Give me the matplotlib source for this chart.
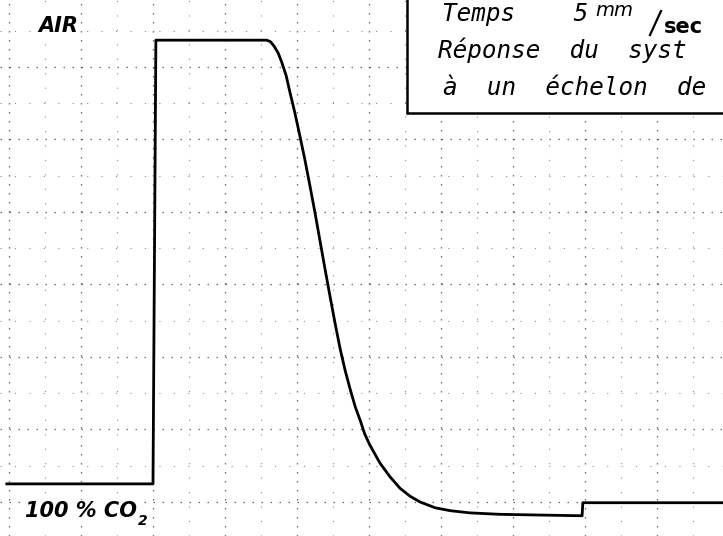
import matplotlib
matplotlib.use('Agg')
import matplotlib.pyplot as plt
from matplotlib.ticker import MultipleLocator
from matplotlib.patches import Rectangle
from matplotlib.lines import Line2D

# Recorder trace, read in chart divisions (x: time, y: gas level)
t_div = [-0.03, 2.00, 2.04, 3.58, 3.63, 3.68, 3.74, 3.79, 3.85, 3.90, 3.97,
         4.04, 4.11, 4.18, 4.25, 4.32, 4.39, 4.46, 4.53, 4.60, 4.67, 4.74,
         4.81, 4.88, 4.94, 5.01, 5.15, 5.29, 5.43, 5.57, 5.71, 5.92, 6.13,
         6.40, 6.82, 7.38, 7.96, 7.97, 9.95]
level_div = [0.25, 0.25, 6.37, 6.37, 6.35, 6.29, 6.19, 6.06, 5.88, 5.66, 5.37,
             5.05, 4.72, 4.36, 3.99, 3.60, 3.21, 2.83, 2.46, 2.11, 1.81, 1.55,
             1.31, 1.12, 0.94, 0.79, 0.54, 0.35, 0.19, 0.08, 0.00, -0.08, -0.12,
             -0.15, -0.17, -0.18, -0.19, -0.01, -0.01]

label_top = 'AIR'
label_bottom = '100 % CO'
box_lines = ['Temps    5', 'Réponse  du  syst', 'à  un  échelon  de']

W, H = 723, 536
fig = plt.figure(figsize=(W / 100, H / 100), dpi=100)
ax = fig.add_axes([0, 0, 1, 1])
ax.set_xlim(-0.125, 9.917)
ax.set_ylim(-0.469, 6.924)

# chart paper grid
ax.xaxis.set_major_locator(MultipleLocator(1))
ax.xaxis.set_minor_locator(MultipleLocator(0.5))
ax.yaxis.set_major_locator(MultipleLocator(1))
ax.yaxis.set_minor_locator(MultipleLocator(0.5))
ax.grid(which='major', color='k', linestyle=(0, (1.2, 6)), linewidth=0.9, alpha=0.6)
ax.grid(which='minor', color='k', linestyle=(0, (1, 12)), linewidth=0.8, alpha=0.45)
ax.tick_params(which='both', length=0, labelbottom=False, labelleft=False)
for s in ax.spines.values():
    s.set_visible(False)

ax.plot(t_div, level_div, color='black', linewidth=2.0, solid_joinstyle='round', zorder=3)


def px(x, y):
    return x / W, 1 - y / H


# labels on the left
mask = dict(facecolor='white', edgecolor='none', pad=1)
fig.text(*px(38, 32), label_top, fontsize=15, fontweight='bold', style='italic',
         va='baseline', bbox=mask)
co2 = fig.text(*px(25, 517), label_bottom, fontsize=15, fontweight='bold', style='italic',
               va='baseline', bbox=mask)
ax.annotate('2', xy=(1, 0), xycoords=co2, xytext=(1, -3), textcoords='offset points',
            fontsize=10, fontweight='bold', style='italic', va='baseline', ha='left')

# framed caption, top right
fig.add_artist(Rectangle(px(407, 113), 1, 1, transform=fig.transFigure,
                         facecolor='white', edgecolor='black', linewidth=1.8))
mono = dict(family='DejaVu Sans Mono', style='oblique', fontsize=17.5, va='baseline')
for line, (x, y) in zip(box_lines, [(442, 21), (438, 58), (443, 95)]):
    fig.text(*px(x, y), line, **mono)
fig.text(*px(595, 16), 'mm', family='DejaVu Sans', style='oblique', fontsize=14, va='baseline')
fig.add_artist(Line2D([650 / W, 661 / W], [1 - 35 / H, 1 - 11 / H], transform=fig.transFigure,
                      color='black', linewidth=1.6))
fig.text(*px(664, 33), 'sec', family='DejaVu Sans', fontweight='bold', fontsize=15, va='baseline')

fig.savefig('out.png', dpi=100)
